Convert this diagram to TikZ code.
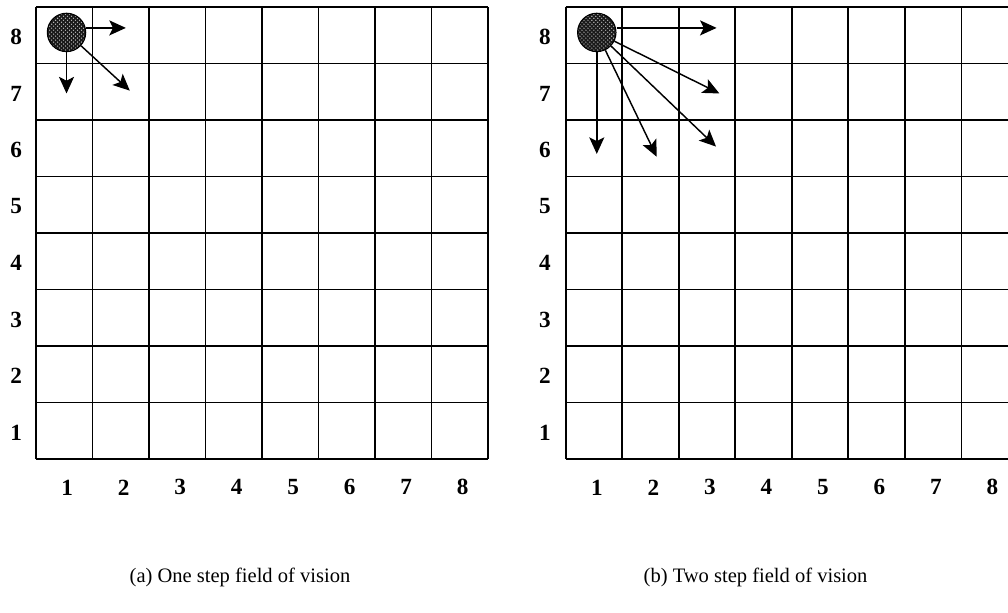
\documentclass[tikz,border=0pt]{standalone}
\usepackage{fontspec}
\setmainfont{Liberation Serif}
\usetikzlibrary{arrows.meta,patterns}
\tikzset{
  cellgrid/.style={line width=1.2pt},
  agent/.style={circle,draw,line width=0.8pt,minimum size=1.02cm,inner sep=0pt,
    preaction={fill=black!90},pattern=crosshatch dots,pattern color=white!80!black},
  fov/.style={line width=1.1pt,-{Stealth[length=4.4mm,width=4mm,inset=1mm]}},
  numlabel/.style={font=\fontsize{17.5}{20}\selectfont\bfseries},
  capt/.style={font=\fontsize{15.5}{18}\selectfont}
}

\begin{document}
\begin{tikzpicture}[x=1.5cm,y=1.5cm]
\path[use as bounding box] (-0.637,-2.708) rectangle (17.20,8.124);
\clip (-0.637,-2.708) rectangle (17.20,8.124);
% (a) one step
\draw[cellgrid,step=1.5cm] (0,0) grid (8,8);
\foreach \n in {1,...,8} {
  \node[numlabel] (rowA\n) at (-0.35,\n-0.53) {\n};
  \node[numlabel] (colA\n) at (\n-0.45,-0.5) {\n};
}
\node[agent] (agentA) at (0.54,7.55) {};
\coordinate (tipA1) at (1.59,7.63);
\coordinate (tipA2) at (0.54,6.47);
\coordinate (tipA3) at (1.66,6.52);
\draw[fov] (agentA.east |- tipA1) -- (tipA1);
\draw[fov] (agentA) -- (tipA2);
\draw[fov] (agentA) -- (tipA3);
\node[capt] (captA) at (3.61,-2.09) {(a) One step field of vision};
% (b) two step
\begin{scope}[xshift=14.06cm]
\draw[cellgrid,step=1.5cm] (0,0) grid (8,8);
\foreach \n in {1,...,8} {
  \node[numlabel] (rowB\n) at (-0.37,\n-0.53) {\n};
  \node[numlabel] (colB\n) at (\n-0.45,-0.5) {\n};
}
\node[agent] (agentB) at (0.55,7.55) {};
\coordinate (tipB1) at (2.67,7.63);
\coordinate (tipB2) at (0.55,5.40);
\coordinate (tipB3) at (1.61,5.35);
\coordinate (tipB4) at (2.72,6.47);
\coordinate (tipB5) at (2.66,5.53);
\draw[fov] (agentB.east |- tipB1) -- (tipB1);
\draw[fov] (agentB) -- (tipB2);
\draw[fov] (agentB) -- (tipB3);
\draw[fov] (agentB) -- (tipB4);
\draw[fov] (agentB) -- (tipB5);
\node[capt] (captB) at (3.36,-2.09) {(b) Two step field of vision};
\end{scope}
\end{tikzpicture}
\end{document}
